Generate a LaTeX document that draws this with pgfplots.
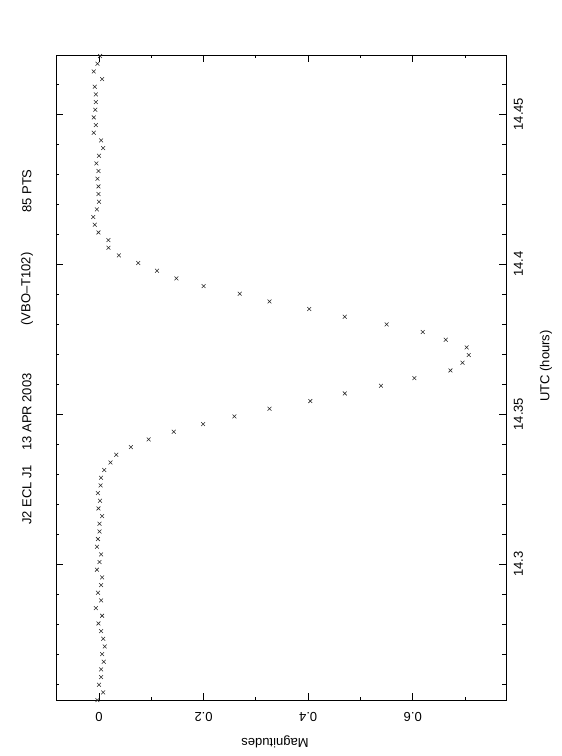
\documentclass[border=0pt]{standalone}
\usepackage{fontspec}
\setmainfont{Liberation Sans}
\usepackage{pgfplots}
\usepackage{pgfplotstable}
\pgfplotsset{compat=1.18}
\pgfplotstableread{
mag utc
-0.003 14.25467
0.008 14.25723
0.000 14.25978
0.004 14.26234
0.004 14.26489
0.009 14.26745
0.006 14.27000
0.011 14.27256
0.008 14.27511
0.004 14.27767
-0.001 14.28023
0.006 14.28278
-0.006 14.28534
0.004 14.28789
-0.002 14.29045
0.004 14.29300
0.006 14.29556
-0.004 14.29812
0.001 14.30067
0.004 14.30323
-0.004 14.30578
-0.002 14.30834
0.001 14.31089
0.001 14.31345
0.006 14.31600
-0.001 14.31856
0.002 14.32112
-0.002 14.32367
0.003 14.32623
0.004 14.32878
0.010 14.33134
0.022 14.33389
0.033 14.33645
0.061 14.33901
0.095 14.34156
0.143 14.34412
0.199 14.34667
0.259 14.34923
0.326 14.35178
0.404 14.35434
0.470 14.35689
0.539 14.35945
0.603 14.36201
0.672 14.36456
0.695 14.36712
0.707 14.36967
0.703 14.37223
0.663 14.37478
0.619 14.37734
0.550 14.37990
0.470 14.38245
0.402 14.38501
0.326 14.38756
0.269 14.39012
0.200 14.39267
0.148 14.39523
0.111 14.39778
0.075 14.40034
0.038 14.40290
0.018 14.40545
0.018 14.40801
-0.001 14.41056
-0.008 14.41312
-0.011 14.41567
-0.004 14.41823
0.000 14.42079
-0.001 14.42334
-0.001 14.42590
-0.003 14.42845
-0.001 14.43101
-0.005 14.43356
0.000 14.43612
0.008 14.43867
0.004 14.44123
-0.010 14.44379
-0.006 14.44634
-0.010 14.44890
-0.007 14.45145
-0.006 14.45401
-0.006 14.45656
-0.008 14.45912
0.006 14.46168
-0.010 14.46423
-0.003 14.46679
0.002 14.46934
}\lcdata
\begin{document}
\begin{tikzpicture}[font=\fontsize{13}{15}\selectfont]
\path[use as bounding box] (-56pt,-56pt) rectangle (506pt,700pt);
\begin{axis}[
  at={(0pt,0pt)}, anchor=south west,
  width=450pt, height=645pt, scale only axis,
  xmin=-0.0822, xmax=0.7782, ymin=14.2547, ymax=14.4697,
  axis line style={line width=0.8pt},
  xtick={0,0.2,0.4,0.6}, minor xtick={0.1,0.3,0.5,0.7},
  ytick={14.3,14.35,14.4,14.45},
  minor ytick={14.26,14.27,14.28,14.29,14.31,14.32,14.33,14.34,14.36,14.37,14.38,14.39,14.41,14.42,14.43,14.44,14.46},
  major tick length=7pt, minor tick length=3.5pt,
  every tick/.style={black, line width=0.8pt},
  yticklabel pos=right,
  /pgf/number format/assume math mode=true,
  xticklabel style={font=\fontsize{13}{15}\selectfont, anchor=center, yshift=-16.6pt, rotate=180},
  yticklabel style={font=\fontsize{13}{15}\selectfont, anchor=center, xshift=12.5pt, rotate=90},
  yticklabel={\pgfmathprintnumber[fixed,precision=2]{\tick}},
  clip=false,
]
\addplot[only marks, mark=x, mark size=2.7pt, black!85, mark options={line width=0.55pt}] table[x=mag, y=utc] {\lcdata};
\end{axis}
\node[rotate=90] at (-29pt,205pt) {J2 ECL J1};
\node[rotate=90] at (-29pt,288pt) {13 APR 2003};
\node[rotate=90] at (-29pt,411pt) {(VBO–T102)};
\node[rotate=90] at (-29pt,509pt) {85 PTS};
\node[rotate=90] at (490pt,334pt) {UTC (hours)};
\node[rotate=180] at (219pt,-42pt) {Magnitudes};
\end{tikzpicture}
\end{document}
